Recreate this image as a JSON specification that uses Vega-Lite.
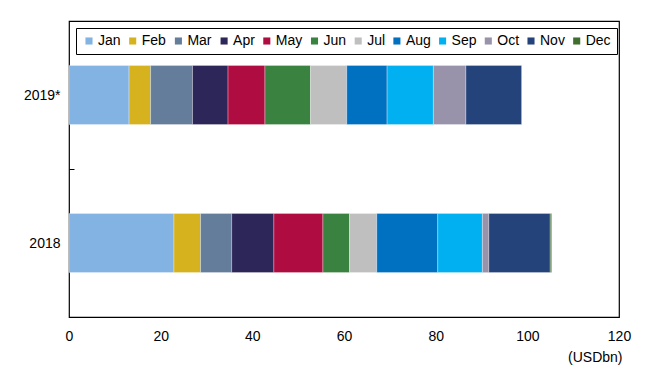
{
  "$schema": "https://vega.github.io/schema/vega-lite/v6.json",
  "width": 550,
  "height": 296,
  "autosize": {"type": "none"},
  "padding": {"left": 69, "top": 21, "right": 43, "bottom": 48},
  "config": {
    "font": "Liberation Sans",
    "view": {"stroke": "#000000", "strokeWidth": 1.2},
    "axis": {"labelFont": "Liberation Sans", "labelColor": "#000000", "titleFont": "Liberation Sans", "titleColor": "#000000"}
  },
  "data": {
    "values": [
      {"year": "2019*", "month": "Jan", "m": 1, "value": 13.1},
      {"year": "2019*", "month": "Feb", "m": 2, "value": 4.7},
      {"year": "2019*", "month": "Mar", "m": 3, "value": 9.15},
      {"year": "2019*", "month": "Apr", "m": 4, "value": 7.75},
      {"year": "2019*", "month": "May", "m": 5, "value": 8.05},
      {"year": "2019*", "month": "Jun", "m": 6, "value": 9.95},
      {"year": "2019*", "month": "Jul", "m": 7, "value": 7.9},
      {"year": "2019*", "month": "Aug", "m": 8, "value": 8.8},
      {"year": "2019*", "month": "Sep", "m": 9, "value": 10.1},
      {"year": "2019*", "month": "Oct", "m": 10, "value": 7.1},
      {"year": "2019*", "month": "Nov", "m": 11, "value": 12.2},
      {"year": "2019*", "month": "Dec", "m": 12, "value": 0},
      {"year": "2018", "month": "Jan", "m": 1, "value": 22.9},
      {"year": "2018", "month": "Feb", "m": 2, "value": 5.8},
      {"year": "2018", "month": "Mar", "m": 3, "value": 6.8},
      {"year": "2018", "month": "Apr", "m": 4, "value": 9.2},
      {"year": "2018", "month": "May", "m": 5, "value": 10.7},
      {"year": "2018", "month": "Jun", "m": 6, "value": 5.8},
      {"year": "2018", "month": "Jul", "m": 7, "value": 5.95},
      {"year": "2018", "month": "Aug", "m": 8, "value": 13.3},
      {"year": "2018", "month": "Sep", "m": 9, "value": 9.75},
      {"year": "2018", "month": "Oct", "m": 10, "value": 1.4},
      {"year": "2018", "month": "Nov", "m": 11, "value": 13.4},
      {"year": "2018", "month": "Dec", "m": 12, "value": 0.3}
    ]
  },
  "mark": {"type": "bar", "height": {"band": 0.4}, "stroke": "#ffffff", "strokeWidth": 0.5, "strokeOpacity": 0.6},
  "encoding": {
    "y": {
      "field": "year",
      "type": "nominal",
      "sort": ["2019*", "2018"],
      "scale": {"paddingInner": 0, "paddingOuter": 0},
      "axis": {
        "title": null,
        "domain": false,
        "tickBand": "extent",
        "tickSize": -5,
        "tickColor": "#000000",
        "labelFontSize": 14,
        "labelPadding": 14
      }
    },
    "x": {
      "field": "value",
      "type": "quantitative",
      "stack": "zero",
      "scale": {"domain": [0, 120], "nice": false},
      "axis": {
        "values": [0, 20, 40, 60, 80, 100, 120],
        "grid": false,
        "domain": false,
        "ticks": false,
        "labelFontSize": 14,
        "labelPadding": 12,
        "labelFlush": false,
        "title": "(USDbn)",
        "titleFontSize": 14,
        "titleFontWeight": "normal",
        "titleAnchor": "end",
        "titleAlign": "right",
        "titleBaseline": "middle",
        "titleX": 553,
        "titleY": 40
      }
    },
    "color": {
      "field": "month",
      "type": "nominal",
      "scale": {
        "domain": ["Jan", "Feb", "Mar", "Apr", "May", "Jun", "Jul", "Aug", "Sep", "Oct", "Nov", "Dec"],
        "range": ["#83B3E3", "#D6B21F", "#637D9B", "#2D2659", "#AF0D41", "#3A8240", "#BFBFBF", "#0070C0", "#00B0F0", "#9893AB", "#24437A", "#3F6E2E"]
      },
      "legend": {
        "title": null,
        "orient": "none",
        "legendX": 7,
        "legendY": 7,
        "direction": "horizontal",
        "columns": 12,
        "symbolType": "square",
        "symbolSize": 50,
        "symbolStrokeWidth": 0,
        "labelFontSize": 14,
        "labelColor": "#000000",
        "labelOffset": 2,
        "columnPadding": 4.7,
        "strokeColor": "#000000",
        "padding": 6,
        "fillColor": "#ffffff"
      }
    },
    "order": {"field": "m", "type": "quantitative"}
  }
}
